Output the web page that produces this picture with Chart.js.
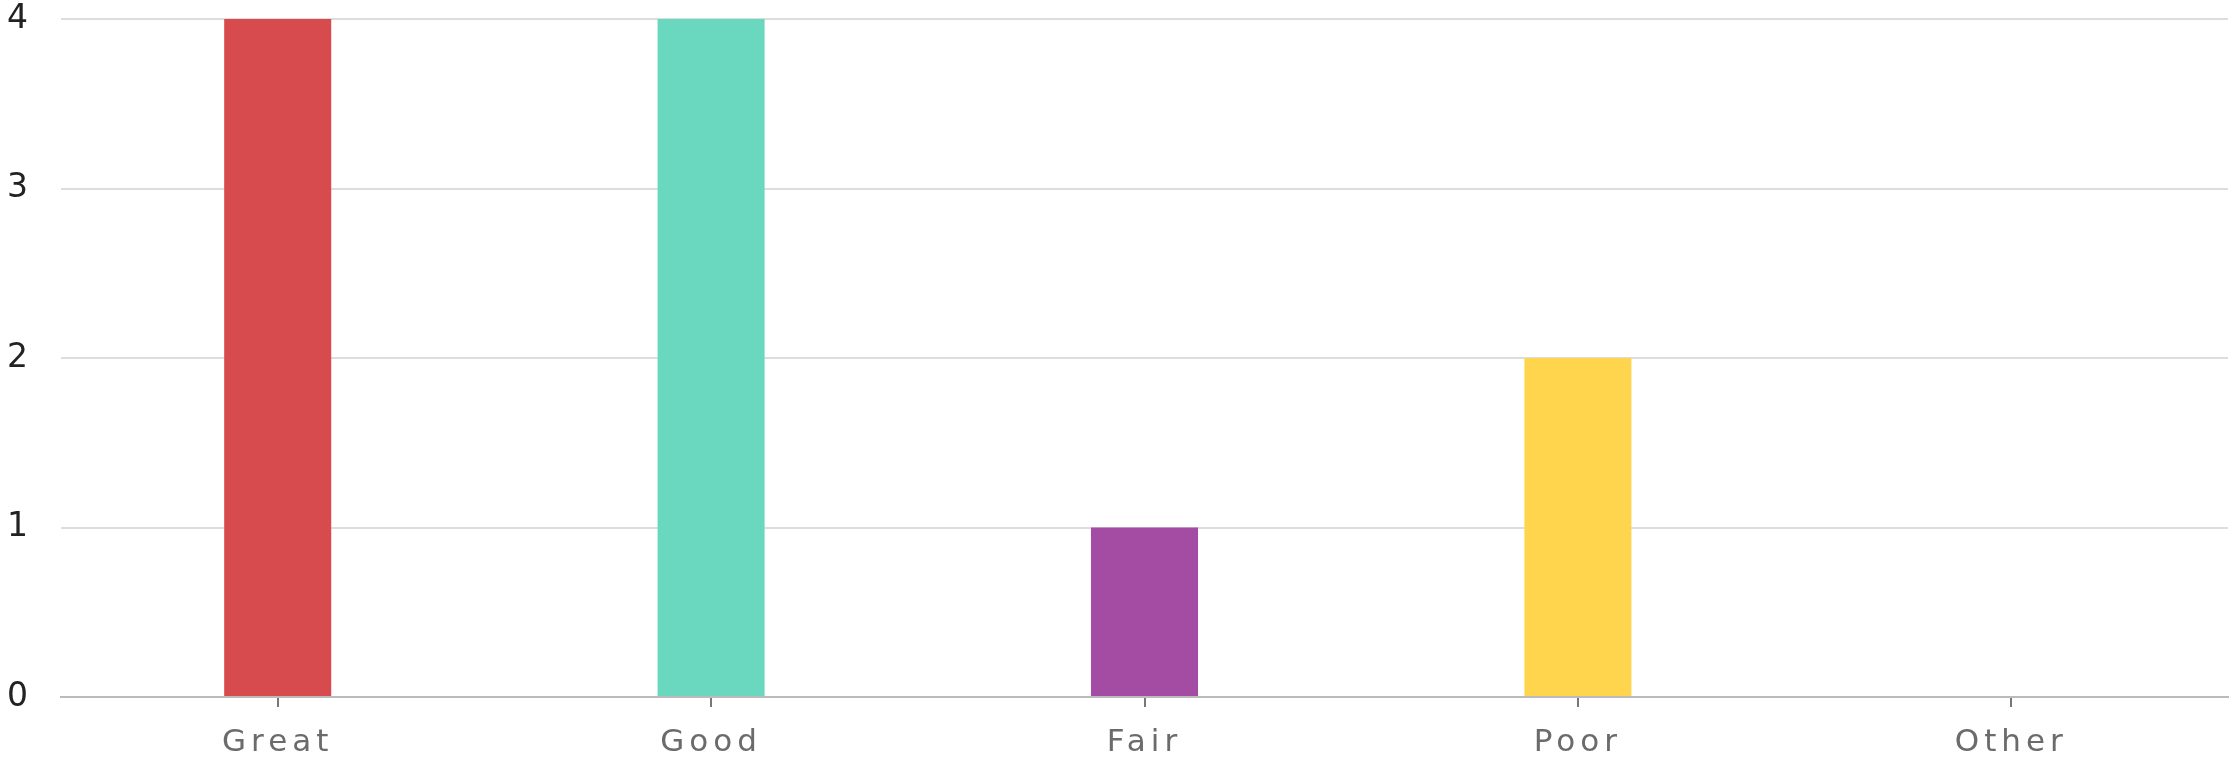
<!DOCTYPE html>
<html>
<head>
<meta charset="utf-8">
<script src="https://cdn.jsdelivr.net/npm/chart.js@4/dist/chart.umd.min.js"></script>
<style>
  html, body { margin: 0; padding: 0; background: #fff; }
  #wrap { width: 2229px; height: 759px; }
</style>
</head>
<body>
<div id="wrap"><canvas id="bar-chart"></canvas></div>
<script>
var categories = ["Great", "Good", "Fair", "Poor", "Other"];
var counts = [4, 4, 1, 2, 0];
var barColors = ["#d74b4f", "#6ad8bf", "#a44ca4", "#fed54c", "#999999"];
var yTicks = [0, 1, 2, 3, 4];

// the original label font runs wider, so open up the letters a bit
var spacing = {
	id: 'spacing',
	beforeDraw: function (chart) {
		chart.ctx.letterSpacing = '5px';
	},
	afterDraw: function (chart) {
		chart.ctx.letterSpacing = '0px';
	}
};

new Chart(document.getElementById("bar-chart"), {
	type: 'bar',
	data: {
		labels: categories,
		datasets: [{
			data: counts,
			backgroundColor: barColors,
			borderWidth: 0,
			categoryPercentage: 1,
			barPercentage: 0.247
		}]
	},
	plugins: [spacing],
	options: {
		responsive: true,
		maintainAspectRatio: false,
		animation: false,
		devicePixelRatio: 1,
		layout: { padding: { left: 0, right: 1, top: 0, bottom: 0 } },
		plugins: {
			legend: { display: false },
			tooltip: { enabled: false }
		},
		scales: {
			x: {
				offset: true,
				afterFit: function (scale) {
					scale.height = 62;
					scale.paddingLeft = 0;
					scale.paddingRight = 0;
				},
				grid: {
					offset: false,
					drawOnChartArea: false,
					drawTicks: true,
					tickLength: 10,
					color: '#777',
					lineWidth: 2
				},
				border: { display: true, color: '#bbbbbb', width: 2 },
				ticks: {
					color: '#6b6b6b',
					padding: 17,
					font: { family: "'DejaVu Sans'", size: 31 }
				}
			},
			y: {
				min: 0,
				max: 4,
				afterBuildTicks: function (scale) {
					scale.ticks = yTicks.map(function (v) { return { value: v }; });
				},
				afterFit: function (scale) {
					scale.width = 61;
					scale.paddingTop = 19;
					scale.paddingBottom = 0;
				},
				grid: {
					drawTicks: false,
					color: '#dddddd',
					lineWidth: 2
				},
				border: { display: false },
				ticks: {
					color: '#222',
					padding: 28,
					font: { family: "'DejaVu Sans'", size: 33 }
				}
			}
		}
	}
});
</script>
</body>
</html>
